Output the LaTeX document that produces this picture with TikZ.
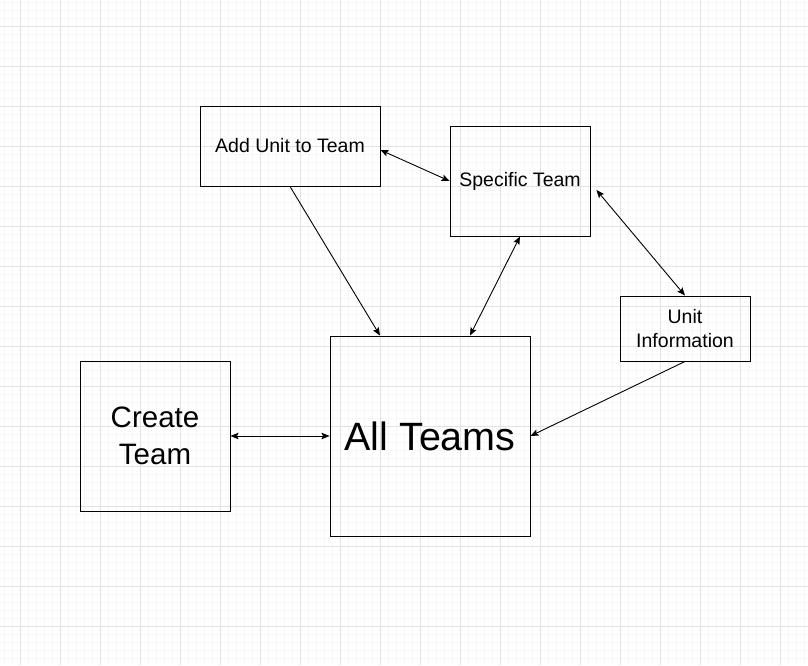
\documentclass[tikz,border=0pt]{standalone}
\usepackage{fontspec}
\setmainfont{Liberation Sans}
\usetikzlibrary{positioning,arrows.meta,calc}
\definecolor{gridmajor}{RGB}{226,226,226}
\definecolor{gridminor}{RGB}{247,247,247}
\tikzset{
    x=1pt,
    y=-1pt,
    block/.style = {
        draw,
        shape=rectangle,
        line width=0.9pt,
        inner sep=0pt,
        align=center,
        font=\fontsize{19.5}{24}\selectfont
    },
    minorline/.style = {gridminor, line width=0.8pt},
    majorline/.style = {gridmajor, line width=0.9pt},
    link/.style = {line width=0.9pt},
    >={Stealth[length=8pt,width=6.5pt,inset=1.5pt]},
}
\begin{document}
\begin{tikzpicture}
                \useasboundingbox (0,0) rectangle (808,665);
                \fill[white] (0,0) rectangle (808,665);
                % grid
                \foreach \x in {4,12,...,804} \draw[minorline] (\x,0) -- (\x,665);
                \foreach \y in {2,10,...,662} \draw[minorline] (0,\y) -- (808,\y);
                \foreach \x in {20,60,...,800} \draw[majorline] (\x,0) -- (\x,665);
                \foreach \y in {26,66,...,662} \draw[majorline] (0,\y) -- (808,\y);

                \node[block, minimum width=180pt, minimum height=80pt] (addunit) at (290,146) {Add Unit to Team};
                \node[block, minimum width=140pt, minimum height=110pt] (specific) at (520,181) {Specific Team};
                \node[block, minimum width=130pt, minimum height=65pt] (unitinfo) at (685,328.5) {Unit\\Information};
                \node[block, minimum width=150pt, minimum height=150pt, font=\fontsize{29.5}{37}\selectfont] (createteam) at (155,436) {Create\\Team};
                \node[block, minimum width=200pt, minimum height=200pt, font=\fontsize{39.5}{46}\selectfont] (allteams) at (430,436) {All Teams};

                \draw[link, <->] ([yshift=-4pt]addunit.east) -- (specific.west);
                \draw[link, ->] (addunit.south) -- ([xshift=-50pt]allteams.north);
                \draw[link, <->] (specific.south) -- ([xshift=40pt]allteams.north);
                \draw[link, <->] ([xshift=6pt,yshift=-9pt]specific.east) -- (unitinfo.north);
                \draw[link, ->] (unitinfo.south) -- (allteams.east);
                \draw[link, <->] (createteam.east) -- (allteams.west);
\end{tikzpicture}
\end{document}
